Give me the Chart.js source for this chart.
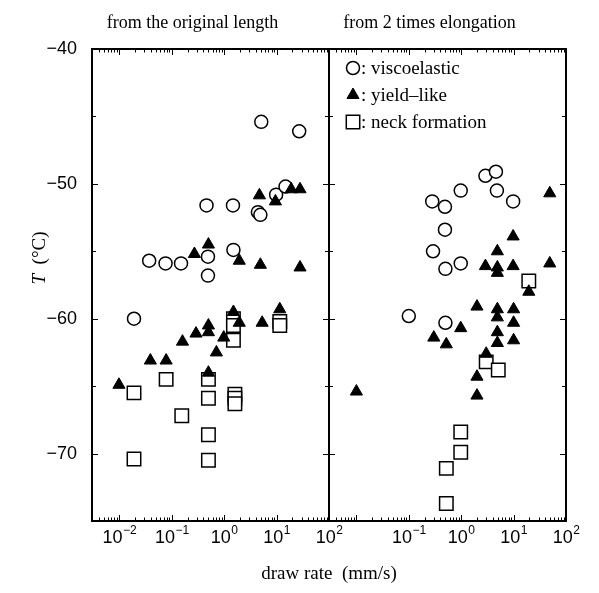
<!DOCTYPE html>
<html>
<head>
<meta charset="utf-8">
<script src="https://cdn.jsdelivr.net/npm/chart.js@4.4.1/dist/chart.umd.min.js"></script>
<style>
    html, body { margin: 0; padding: 0; background: #fff; }
    #wrap { position: relative; width: 599px; height: 593px; }
</style>
</head>
<body>
<div id="wrap"><canvas id="drawrate-chart" width="599" height="593"></canvas></div>
<script>
// panel titles, axis titles, tick labels
var panelTitles = ['from the original length', 'from 2 times elongation'];
var xTitle = 'draw rate  (mm/s)';
var yTitleVar = 'T';
var yTitleUnit = '  (°C)';
var xTickExponents = [[-2, -1, 0, 1, 2], [-1, 0, 1, 2]];
var yTickValues = [-70, -60, -50, -40];
var seriesNames = ['viscoelastic', 'yield–like', 'neck formation'];

// left panel: from the original length
var viscoOrigRate = [0.019, 0.037, 0.076, 0.15, 0.49, 0.49, 1.5, 0.46, 1.47, 4.4, 4.9, 9.8, 14.8, 5.1, 27];
var viscoOrigT = [-60.0, -55.7, -55.9, -55.9, -55.4, -56.8, -54.9, -51.6, -51.6, -52.1, -52.3, -50.8, -50.2, -45.4, -46.1];

var yieldOrigRate = [0.0098, 0.039, 0.078, 0.16, 0.29, 0.5, 0.5, 0.98, 0.71, 0.5, 0.27, 0.5, 1.5, 1.94, 1.94, 4.9, 5.3, 11.5, 28, 4.7, 9.5, 19, 28];
var yieldOrigT = [-64.9, -63.1, -63.1, -61.7, -61.1, -60.5, -61.0, -61.4, -62.5, -64.0, -55.2, -54.5, -59.5, -55.7, -60.3, -56.0, -60.3, -59.3, -56.2, -50.85, -51.3, -50.4, -50.4];

var neckOrigRate = [0.019, 0.019, 0.078, 0.155, 0.5, 0.5, 0.5, 0.5, 1.5, 1.5, 1.5, 1.6, 1.6, 1.6, 11.5, 11.5];
var neckOrigT = [-65.5, -70.4, -64.5, -67.2, -64.5, -65.9, -68.6, -70.5, -60.0, -60.5, -61.6, -65.6, -65.9, -66.3, -60.2, -60.5];

// right panel: from 2 times elongation
var visco2xRate = [0.29, 0.5, 0.98, 0.1, 0.5, 0.28, 0.49, 0.49, 0.98, 2.9, 4.6, 4.8, 9.8];
var visco2xT = [-55.0, -56.3, -55.9, -59.8, -60.3, -51.3, -51.7, -53.4, -50.5, -49.4, -49.1, -50.5, -51.3];

var yield2xRate = [0.01, 0.3, 0.52, 0.98, 2.0, 2.9, 3.0, 2.0, 2.0, 4.9, 4.9, 4.9, 4.9, 4.9, 4.9, 4.9, 9.8, 9.8, 10, 10, 10, 19.5, 49, 49];
var yield2xT = [-65.4, -61.4, -61.9, -60.7, -59.1, -56.1, -62.6, -64.3, -65.7, -55.0, -56.2, -56.6, -59.3, -59.9, -61.0, -61.8, -53.9, -56.1, -59.3, -60.3, -61.6, -58.0, -55.9, -50.7];

var neck2xRate = [19.5, 3.0, 5.1, 0.98, 0.98, 0.52, 0.52];
var neck2xT = [-57.2, -63.2, -63.8, -68.4, -69.9, -71.1, -73.7];

var SERIF = '"Liberation Serif", "Times New Roman", serif';
var SANS = '"Liberation Sans", Arial, sans-serif';

function toPoints(xs, ys) {
    var pts = [];
    for (var i = 0; i < xs.length; i++) {
        pts.push({ x: xs[i], y: ys[i] });
    }
    return pts;
}

var markerStyles = [
    { pointStyle: 'circle', pointRadius: 6.5, backgroundColor: '#fff', borderWidth: 1.5, order: 1 },
    { pointStyle: 'triangle', pointRadius: 7, backgroundColor: '#000', borderWidth: 1, order: 0 },
    { pointStyle: 'rect', pointRadius: 9.5, backgroundColor: '#fff', borderWidth: 1.5, order: 2 }
];

function makeDataset(series, axisId, xs, ys) {
    var st = markerStyles[series];
    return {
        label: seriesNames[series],
        xAxisID: axisId,
        yAxisID: 'y',
        data: toPoints(xs, ys),
        pointStyle: st.pointStyle,
        pointRadius: st.pointRadius,
        pointHoverRadius: st.pointRadius,
        backgroundColor: st.backgroundColor,
        borderColor: '#000',
        borderWidth: st.borderWidth,
        order: st.order
    };
}

function fixX(scale) {
    scale.height = 72;
    scale.paddingLeft = 0;
    scale.paddingRight = 0;
}

function logScale() {
    return {
        type: 'logarithmic',
        position: 'bottom',
        stack: 'rate',
        stackWeight: 1,
        min: 0.003,
        max: 100,
        grid: { display: false },
        border: { display: false },
        ticks: { display: false },
        afterFit: fixX
    };
}

// frame, inward ticks and all text
var panelPlugin = {
    id: 'panelPlugin',
    beforeDatasetsDraw: function (chart) {
        var ctx = chart.ctx;
        var a = chart.chartArea;
        var ys = chart.scales.y;
        ctx.save();
        ctx.strokeStyle = '#000';
        ctx.lineWidth = 2;
        ctx.strokeRect(a.left, a.top, a.right - a.left, a.bottom - a.top);
        ['x1', 'x2'].forEach(function (id) {
            var s = chart.scales[id];
            ctx.lineWidth = 2;
            ctx.beginPath();
            ctx.moveTo(s.right, a.top);
            ctx.lineTo(s.right, a.bottom);
            ctx.stroke();
            ctx.lineWidth = 1;
            ctx.beginPath();
            for (var e = -3; e <= 1; e++) {
                for (var k = 1; k <= 9; k++) {
                    var v = k * Math.pow(10, e);
                    if (v < s.min || v > s.max) continue;
                    var px = Math.round(s.getPixelForValue(v)) + 0.5;
                    var len = k === 1 ? 6 : 3.5;
                    ctx.moveTo(px, a.bottom);
                    ctx.lineTo(px, a.bottom - len);
                    ctx.moveTo(px, a.top);
                    ctx.lineTo(px, a.top + len);
                }
            }
            for (var t = -75; t <= -40; t += 5) {
                var py = Math.round(ys.getPixelForValue(t)) + 0.5;
                var l2 = t % 10 === 0 ? 6 : 4;
                ctx.moveTo(s.left, py);
                ctx.lineTo(s.left + l2, py);
                ctx.moveTo(s.right, py);
                ctx.lineTo(s.right - l2, py);
            }
            ctx.stroke();
        });
        ctx.restore();
    },
    afterDraw: function (chart) {
        var ctx = chart.ctx;
        var a = chart.chartArea;
        ctx.save();
        ctx.fillStyle = '#000';

        // x tick labels with superscript exponents
        ['x1', 'x2'].forEach(function (id, p) {
            var s = chart.scales[id];
            xTickExponents[p].forEach(function (e) {
                var px = s.getPixelForValue(Math.pow(10, e));
                var expText = e < 0 ? '\u2212' + Math.abs(e) : String(e);
                ctx.font = '18px ' + SANS;
                var w1 = ctx.measureText('10').width;
                ctx.font = '12px ' + SANS;
                var w2 = ctx.measureText(expText).width;
                var x0 = px - (w1 + w2) / 2;
                ctx.textAlign = 'left';
                ctx.textBaseline = 'alphabetic';
                ctx.font = '18px ' + SANS;
                ctx.fillText('10', x0, 543);
                ctx.font = '12px ' + SANS;
                ctx.fillText(expText, x0 + w1 + 0.5, 534);
            });

            // panel title
            ctx.font = '18px ' + SERIF;
            ctx.textAlign = 'center';
            ctx.textBaseline = 'alphabetic';
            ctx.fillText(panelTitles[p], (s.left + s.right) / 2 - 18, 28);
        });

        // x axis title
        ctx.font = '19px ' + SERIF;
        ctx.textAlign = 'center';
        ctx.fillText(xTitle, (a.left + a.right) / 2, 579);

        // y axis title, italic variable + unit
        ctx.translate(40, 258);
        ctx.rotate(-Math.PI / 2);
        ctx.font = 'italic 19px ' + SERIF;
        var wv = ctx.measureText(yTitleVar).width;
        ctx.font = '19px ' + SERIF;
        var wu = ctx.measureText(yTitleUnit).width;
        ctx.textAlign = 'left';
        ctx.textBaseline = 'middle';
        ctx.font = 'italic 19px ' + SERIF;
        ctx.fillText(yTitleVar, -(wv + wu) / 2, 0);
        ctx.font = '19px ' + SERIF;
        ctx.fillText(yTitleUnit, -(wv + wu) / 2 + wv, 0);
        ctx.setTransform(1, 0, 0, 1, 0, 0);

        // legend in the right panel
        var lx = chart.scales.x2.left + 24;
        var rows = [68, 95, 122];
        for (var i = 0; i < seriesNames.length; i++) {
            var st = markerStyles[i];
            ctx.fillStyle = st.backgroundColor;
            ctx.strokeStyle = '#000';
            ctx.lineWidth = st.borderWidth;
            Chart.helpers.drawPoint(ctx, { pointStyle: st.pointStyle, radius: st.pointRadius, rotation: 0, borderWidth: st.borderWidth }, lx, rows[i]);
            ctx.fillStyle = '#000';
            ctx.font = '19px ' + SERIF;
            ctx.textAlign = 'left';
            ctx.textBaseline = 'middle';
            ctx.fillText(': ' + seriesNames[i], lx + 8, rows[i] + 1);
        }
        ctx.restore();
    }
};

var ctx = document.getElementById('drawrate-chart');
var DrawRateChart = new Chart(ctx, {
    type: 'scatter',
    data: {
        datasets: [
            makeDataset(0, 'x1', viscoOrigRate, viscoOrigT),
            makeDataset(1, 'x1', yieldOrigRate, yieldOrigT),
            makeDataset(2, 'x1', neckOrigRate, neckOrigT),
            makeDataset(0, 'x2', visco2xRate, visco2xT),
            makeDataset(1, 'x2', yield2xRate, yield2xT),
            makeDataset(2, 'x2', neck2xRate, neck2xT)
        ]
    },
    plugins: [panelPlugin],
    options: {
        responsive: false,
        animation: false,
        devicePixelRatio: 1,
        layout: {
            padding: { top: 49, right: 33, bottom: 0, left: 0 }
        },
        plugins: {
            legend: { display: false },
            tooltip: { enabled: false }
        },
        scales: {
            x1: logScale(),
            x2: logScale(),
            y: {
                type: 'linear',
                position: 'left',
                min: -75,
                max: -40,
                grid: { display: false },
                border: { display: false },
                afterBuildTicks: function (scale) {
                    scale.ticks = yTickValues.map(function (v) { return { value: v }; });
                },
                ticks: {
                    color: '#000',
                    padding: 7,
                    font: { family: SANS, size: 18 },
                    callback: function (v) {
                        return v < 0 ? '\u2212' + Math.abs(v) : String(v);
                    }
                },
                afterFit: function (scale) {
                    scale.width = 92;
                    scale.paddingTop = 0;
                    scale.paddingBottom = 0;
                }
            }
        }
    }
});
</script>
</body>
</html>
